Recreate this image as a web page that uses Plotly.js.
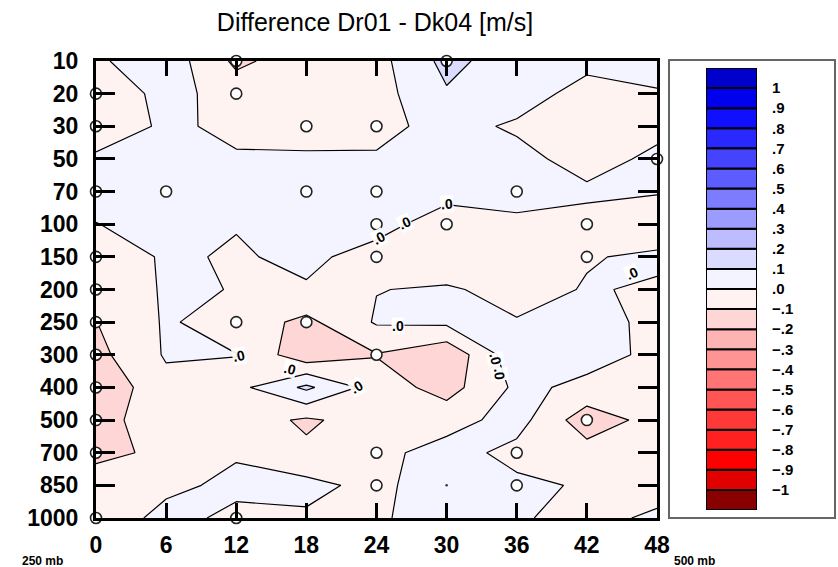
<!DOCTYPE html>
<html>
<head>
<meta charset="utf-8">
<script src="https://cdn.plot.ly/plotly-3.0.1.min.js"></script>
<style>
  html, body { margin: 0; padding: 0; background: #fff; }
  #chart { width: 838px; height: 567px; }
</style>
</head>
<body>
<div id="chart"></div>
<script>
// Forecast hours along the x axis
const hours = [0, 6, 12, 18, 24, 30, 36, 42, 48];
// Pressure levels (mb), top of the plot first
const levels = [10, 20, 30, 50, 70, 100, 150, 200, 250, 300, 400, 500, 700, 850, 1000];

// Wind difference Dr01 - Dk04 [m/s], one row per pressure level, one column per hour
const diff = [
  [-0.015, 0.06, -0.12, -0.05, -0.035, 0.13, 0.044, 0.03, 0.05],
  [-0.09, 0.04, -0.05, -0.05, -0.04, 0.09, 0.05, -0.04, -0.01],
  [-0.095, 0.025, -0.03, -0.03, -0.03, 0.035, -0.015, -0.05, -0.03],
  [0.026, 0.05, 0.013, 0.01, 0.011, 0.05, 0.033, -0.042, 0.023],
  [0.03, 0.05, 0.04, 0.04, 0.04, 0.035, 0.037, 0.018, 0.005],
  [-0.002, 0.03, 0.005, 0.03, 0.037, -0.052, -0.02, -0.033, -0.045],
  [-0.08, 0.016, -0.011, 0.023, -0.04, -0.06, -0.05, -0.005, 0.012],
  [-0.06, 0.009, -0.002, -0.01, -0.0025, 0.01, -0.028, 0.005, -0.008],
  [-0.102, 0.011, -0.044, -0.125, 0.01, 0.02, 0.005, 0.015, -0.01],
  [-0.13, 0.01, 0.002, -0.17, -0.105, -0.18, 0.07, 0.03, -0.018],
  [-0.18, -0.03, -0.03, 0.12, -0.047, -0.14, 0.02, -0.02, -0.05],
  [-0.14, -0.04, -0.05, -0.115, -0.055, -0.04, 0.04, -0.16, -0.06],
  [-0.125, -0.08, -0.013, -0.082, -0.028, 0.04, -0.03, -0.057, -0.04],
  [-0.05, -0.03, 0.03, 0.029, -0.03, 0.07, 0.02, -0.01, -0.04],
  [-0.09, 0.042, -0.03, -0.015, -0.0085, 0.03, 0.01, -0.03, 0.017]
];

// Grid points marked with open circles
const stationHours = [0, 0, 0, 0, 0, 0, 0, 0, 0, 0, 0,
                      6,
                      12, 12, 12, 12,
                      18, 18, 18,
                      24, 24, 24, 24, 24, 24, 24,
                      30, 30,
                      36, 36, 36,
                      42, 42, 42,
                      48];
const stationLevels = [20, 30, 70, 150, 200, 250, 300, 400, 500, 700, 1000,
                       70,
                       10, 20, 250, 1000,
                       30, 70, 250,
                       30, 70, 100, 150, 300, 700, 850,
                       10, 100,
                       70, 700, 850,
                       100, 150, 500,
                       50];
// Point drawn as a bare dot
const dotHours = [30];
const dotLevels = [850];

// Contour levels and colour key
const cbLevels = [-1, -0.9, -0.8, -0.7, -0.6, -0.5, -0.4, -0.3, -0.2, -0.1, 0,
                  0.1, 0.2, 0.3, 0.4, 0.5, 0.6, 0.7, 0.8, 0.9, 1];
const cbLabels = ['\u22121', '\u2212.9', '\u2212.8', '\u2212.7', '\u2212.6', '\u2212.5',
                  '\u2212.4', '\u2212.3', '\u2212.2', '\u2212.1', '.0',
                  '.1', '.2', '.3', '.4', '.5', '.6', '.7', '.8', '.9', '1'];
// One fill per band, from below -1 up to above 1
const bandColors = ['#880000', '#E00000', '#FF0000', '#FF2020', '#FF3838', '#FF5555',
                    '#FF7474', '#FF9494', '#FFB4B4', '#FFD6D6', '#FFF3F1',
                    '#F3F4FF', '#DADBFF', '#BCBCFF', '#9C9CFF', '#7C7CFF', '#5C5CFF',
                    '#4444FF', '#2828FF', '#1010FF', '#0000EE', '#0000CC'];

const levelIndex = levels.map((p, i) => i);
const step = cbLevels[1] - cbLevels[0];

// ---- layout geometry (pixels) ----
const W = 838, H = 567;
const mL = 96, mR = 2, mT = 61, mB = 49;
const plotW = W - mL - mR;      // 740
const plotH = H - mT - mB;      // 457
const px2x = px => (px - mL) / plotW;
const py2y = py => (H - mB - py) / plotH;

const boldFont = (size) => ({family: 'Liberation Sans, Arial, sans-serif', size: size, color: '#000', weight: 'bold'});

const contourTrace = {
  type: 'contour',
  x: hours,
  y: levelIndex,
  z: diff,
  colorscale: bandColors.map((c, k) => [k / (bandColors.length - 1), c]),
  autocontour: false,
  contours: {start: cbLevels[0], end: cbLevels[cbLevels.length - 1], size: step,
             coloring: 'fill', showlines: true},
  line: {color: '#000', width: 1.2, smoothing: 0},
  showscale: false,
  hoverinfo: 'skip',
  xaxis: 'x', yaxis: 'y'
};

const stationTrace = {
  type: 'scatter', mode: 'markers',
  x: stationHours,
  y: stationLevels.map(p => levels.indexOf(p)),
  marker: {symbol: 'circle', size: 11, color: '#fff', line: {color: '#222', width: 1.6}},
  cliponaxis: false, hoverinfo: 'skip', showlegend: false,
  xaxis: 'x', yaxis: 'y'
};

const dotTrace = {
  type: 'scatter', mode: 'markers',
  x: dotHours,
  y: dotLevels.map(p => levels.indexOf(p)),
  marker: {symbol: 'circle', size: 2.5, color: '#333'},
  hoverinfo: 'skip', showlegend: false,
  xaxis: 'x', yaxis: 'y'
};

// Colour key drawn as stacked boxes, one per band
const keyTrace = {
  type: 'bar',
  x: bandColors.map(() => 0),
  y: bandColors.map(() => step),
  base: bandColors.map((c, k) => k === 0 ? cbLevels[0] - step : cbLevels[k - 1]),
  width: 1,
  marker: {color: bandColors, line: {color: '#000', width: 2}},
  hoverinfo: 'skip', showlegend: false,
  xaxis: 'x2', yaxis: 'y2'
};

// Placement of ".0" labels along the zero contour
const zeroLabelSpots = [
  {x: 30.0, y: 4.38, a: -4},
  {x: 26.4, y: 4.97, a: -25},
  {x: 24.2, y: 5.42, a: -28},
  {x: 45.9, y: 6.5, a: -25},
  {x: 12.2, y: 9.05, a: -12},
  {x: 16.6, y: 9.44, a: 14},
  {x: 25.8, y: 8.12, a: 0},
  {x: 22.3, y: 10.0, a: -30},
  {x: 34.2, y: 9.12, a: 78},
  {x: 34.5, y: 9.6, a: 84}
];

const annotations = zeroLabelSpots.map(s => ({
  x: s.x, y: s.y, xref: 'x', yref: 'y', text: '.0', showarrow: false,
  textangle: s.a, font: boldFont(14), bgcolor: 'rgba(255,255,255,0.92)', borderpad: 0
}));
annotations.push({
  x: px2x(20), y: py2y(552), xref: 'paper', yref: 'paper', xanchor: 'left', yanchor: 'top',
  text: '250 mb', showarrow: false, font: boldFont(12)
});
annotations.push({
  x: px2x(672), y: py2y(552), xref: 'paper', yref: 'paper', xanchor: 'left', yanchor: 'top',
  text: '500 mb', showarrow: false, font: boldFont(12)
});

const layout = {
  width: W, height: H,
  margin: {l: mL, r: mR, t: mT, b: mB, pad: 0},
  paper_bgcolor: '#fff', plot_bgcolor: '#fff',
  showlegend: false,
  title: {
    text: 'Difference Dr01 - Dk04 [m/s]',
    font: {family: 'Liberation Sans, Arial, sans-serif', size: 25, color: '#000'},
    x: px2x(375), xref: 'paper', xanchor: 'center',
    y: 1 - 22 / H, yref: 'container', yanchor: 'middle'
  },
  xaxis: {
    domain: [0, px2x(657)], range: [hours[0], hours[hours.length - 1]],
    tickvals: hours, ticktext: hours.map(String),
    ticks: 'inside', ticklen: 15, tickwidth: 3, tickcolor: '#000',
    showline: true, linewidth: 3, linecolor: '#000', mirror: 'ticks',
    showgrid: false, zeroline: false, tickfont: boldFont(23), ticklabelstandoff: 4,
    fixedrange: true
  },
  yaxis: {
    range: [levels.length - 1, 0],
    tickvals: levelIndex, ticktext: levels.map(String),
    ticks: 'inside', ticklen: 19, tickwidth: 3, tickcolor: '#000',
    showline: true, linewidth: 3, linecolor: '#000', mirror: 'ticks',
    showgrid: false, zeroline: false, tickfont: boldFont(23), ticklabelstandoff: 10,
    fixedrange: true
  },
  xaxis2: {
    domain: [px2x(706), px2x(757)], range: [-0.5, 0.5], anchor: 'y2',
    visible: false, fixedrange: true
  },
  yaxis2: {
    domain: [py2y(510), py2y(68)], range: [cbLevels[0] - step, cbLevels[cbLevels.length - 1] + step],
    anchor: 'x2', side: 'right',
    tickvals: cbLevels, ticktext: cbLabels, ticks: '',
    showline: false, showgrid: false, zeroline: false,
    tickfont: boldFont(15), ticklabelstandoff: 14, fixedrange: true
  },
  shapes: [{
    type: 'rect', xref: 'paper', yref: 'paper',
    x0: px2x(669), x1: px2x(835), y0: py2y(518), y1: py2y(60),
    line: {color: '#666', width: 2}, fillcolor: 'rgba(0,0,0,0)', layer: 'below'
  }],
  annotations: annotations
};

Plotly.newPlot('chart', [contourTrace, keyTrace, dotTrace, stationTrace], layout,
               {displayModeBar: false, staticPlot: true});
</script>
</body>
</html>
